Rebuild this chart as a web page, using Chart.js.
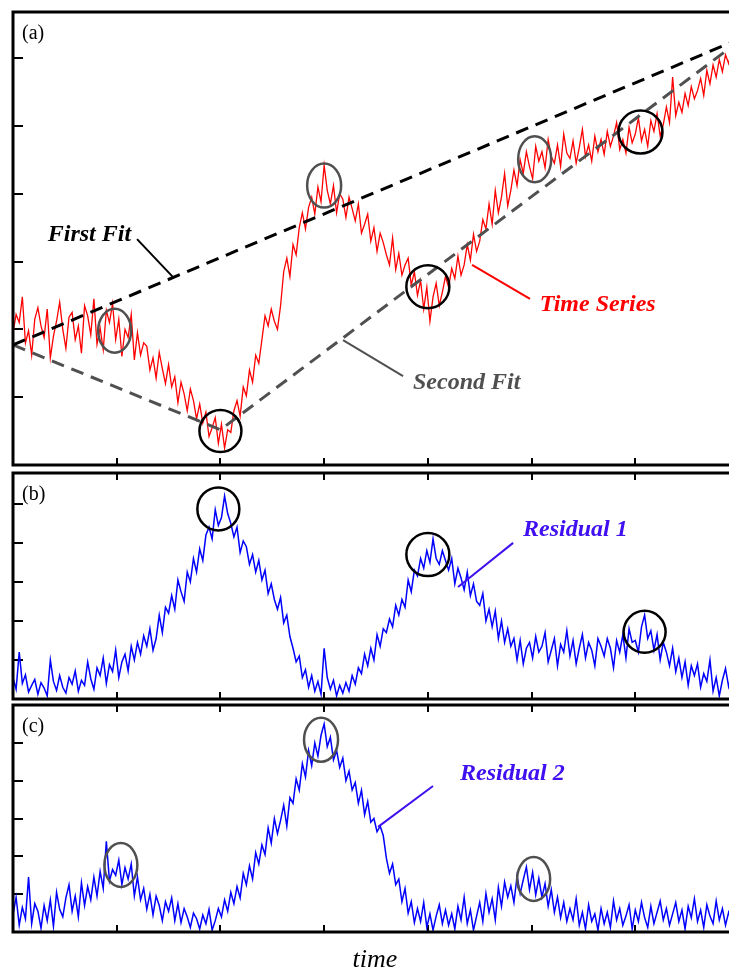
<!DOCTYPE html>
<html>
<head>
<meta charset="utf-8">
<script src="https://cdn.jsdelivr.net/npm/chart.js@4.4.1/dist/chart.umd.min.js"></script>
<style>
  html, body { margin: 0; padding: 0; background: #fff; width: 729px; height: 969px; overflow: hidden; }
  .panel { position: absolute; left: 0; }
</style>
</head>
<body>
<canvas id="chartA" class="panel" width="745" height="470" style="top:0"></canvas>
<canvas id="chartB" class="panel" width="745" height="232" style="top:470px"></canvas>
<canvas id="chartC" class="panel" width="745" height="267" style="top:702px"></canvas>
<script>
// sampling step of the series along the time axis
const timeStep = 0.03;
const timeTicks = [1, 2, 3, 4, 5, 6];
const seriesTicks = [1, 2, 3, 4, 5, 6];
const residual1Ticks = [1, 2, 3, 4, 5];
const residual2Ticks = [1, 2, 3, 4, 5];

const timeSeries = [
  1.95, 2.22, 2.10, 2.48, 1.80, 1.98, 1.62, 2.15, 2.32, 2.05,
  1.88, 2.30, 1.58, 1.90, 2.12, 2.40, 2.00, 1.72, 2.18, 2.25,
  1.85, 2.05, 1.65, 2.35, 2.20, 1.92, 2.45, 1.78, 2.02, 1.70,
  2.28, 2.10, 2.38, 1.85, 2.15, 1.60, 2.00, 1.88, 2.22, 1.55,
  1.95, 1.62, 1.80, 1.75, 1.40, 1.58, 1.28, 1.66, 1.42, 1.20,
  1.48, 1.15, 1.30, 0.92, 1.22, 1.05, 0.80, 1.12, 0.95, 0.68,
  0.90, 0.62, 0.78, 0.42, 0.55, 0.70, 0.32, 0.60, 0.25, 0.52,
  0.48, 0.80, 0.95, 0.72, 1.15, 1.02, 1.40, 1.22, 1.62, 1.50,
  1.85, 2.20, 2.05, 2.30, 2.12, 2.00, 2.35, 2.85, 3.05, 2.78,
  3.25, 3.10, 3.50, 3.72, 3.48, 3.80, 3.95, 3.70, 4.10, 3.88,
  4.42, 4.05, 3.85, 4.12, 3.72, 4.00, 3.92, 3.65, 3.95, 3.78,
  3.60, 3.85, 3.42, 3.55, 3.70, 3.30, 3.50, 3.15, 3.42, 3.28,
  3.10, 2.95, 3.35, 2.88, 3.12, 2.80, 2.95, 3.05, 2.65, 2.85,
  2.50, 2.72, 2.30, 2.62, 2.12, 2.48, 2.68, 2.35, 2.55, 2.78,
  2.62, 2.90, 2.75, 3.08, 2.80, 2.95, 3.25, 3.02, 3.40, 3.15,
  3.30, 3.62, 3.48, 3.85, 3.55, 4.05, 3.72, 3.95, 4.30, 3.82,
  4.05, 4.35, 4.12, 4.50, 4.30, 4.62, 4.40, 4.22, 4.70, 4.48,
  4.62, 4.38, 4.80, 4.55, 4.45, 4.72, 4.40, 4.88, 4.60, 4.52,
  4.78, 4.45, 4.68, 4.95, 4.55, 4.72, 4.48, 4.85, 4.62, 4.80,
  4.58, 4.92, 4.70, 4.85, 5.05, 4.65, 4.80, 4.60, 4.98, 4.75,
  4.88, 5.12, 4.78, 4.95, 4.70, 5.08, 4.92, 5.18, 4.85, 5.02,
  5.28, 5.05, 5.72, 5.15, 5.35, 5.20, 5.48, 5.30, 5.58, 5.40,
  5.52, 5.70, 5.45, 5.82, 5.62, 5.90, 5.72, 5.98, 5.80, 6.05,
  5.92, 6.12
];

const residual1 = [
  0.55, 0.25, 1.20, 0.40, 0.62, 0.18, 0.35, 0.50, 0.12, 0.42,
  0.28, 0.08, 1.00, 0.45, 0.22, 0.60, 0.30, 0.15, 0.55, 0.38,
  0.72, 0.20, 0.48, 0.35, 0.95, 0.52, 0.25, 0.80, 0.60, 1.05,
  0.40, 0.88, 0.70, 1.25, 0.55, 0.95, 1.15, 0.72, 1.35, 1.00,
  1.45, 1.15, 1.62, 1.35, 1.80, 1.25, 1.55, 2.15, 1.70, 2.35,
  2.20, 2.65, 2.30, 3.05, 2.75, 2.50, 3.25, 3.00, 3.60, 3.25,
  3.85, 3.55, 4.20, 4.40, 4.10, 4.85, 4.45, 4.65, 5.20, 4.75,
  4.50, 4.15, 4.40, 3.75, 4.05, 3.90, 3.45, 3.70, 3.25, 3.55,
  3.05, 3.30, 2.70, 2.95, 2.55, 2.30, 2.60, 1.95, 2.15, 1.60,
  1.30, 0.95, 1.10, 0.55, 0.75, 0.30, 0.60, 0.20, 0.45, 0.12,
  1.30, 0.55, 0.25, 0.48, 0.08, 0.35, 0.15, 0.42, 0.20, 0.60,
  0.38, 0.80, 0.65, 1.15, 0.85, 1.30, 1.00, 1.65, 1.35, 1.80,
  1.70, 2.05, 1.85, 2.40, 2.15, 2.55, 2.35, 3.05, 2.75, 3.30,
  3.15, 3.60, 3.35, 3.80, 3.50, 4.10, 3.60, 3.45, 3.80, 3.55,
  3.30, 3.60, 2.95, 3.35, 3.10, 2.80, 3.25, 2.65, 2.95, 2.50,
  2.40, 2.70, 2.00, 2.30, 1.85, 2.25, 1.55, 2.00, 1.45, 1.80,
  1.35, 1.55, 1.00, 1.50, 0.90, 1.30, 1.45, 1.05, 1.60, 1.20,
  1.35, 1.70, 0.95, 1.25, 1.55, 0.85, 1.40, 1.20, 1.75, 1.10,
  1.50, 0.90, 1.30, 1.65, 1.05, 1.45, 1.25, 0.85, 1.55, 1.35,
  1.10, 1.55, 1.30, 0.80, 1.50, 1.20, 1.65, 1.05, 1.80, 1.45,
  1.50, 1.20, 1.85, 2.15, 1.55, 1.75, 1.25, 1.65, 1.00, 1.45,
  1.20, 0.85, 1.30, 0.70, 1.05, 0.55, 0.95, 0.35, 0.85, 0.60,
  0.90, 0.30, 0.65, 0.45, 1.00, 0.20, 0.55, 0.08, 0.48, 0.78,
  0.32, 0.62
];

const residual2 = [
  0.45, 0.92, 0.18, 0.65, 0.35, 1.45, 0.22, 0.75, 0.55, 0.10,
  0.70, 0.30, 0.85, 0.15, 1.05, 0.60, 0.40, 0.90, 1.25, 0.55,
  0.95, 0.40, 1.30, 0.70, 1.20, 0.85, 1.45, 0.95, 1.60, 1.15,
  2.40, 1.35, 1.65, 1.50, 1.90, 1.25, 1.70, 1.40, 1.80, 0.95,
  1.45, 0.85, 1.15, 0.60, 1.00, 0.45, 0.95, 0.70, 0.30, 0.80,
  0.55, 0.90, 0.30, 0.75, 0.25, 0.62, 0.40, 0.12, 0.50, 0.35,
  0.08, 0.45, 0.22, 0.60, 0.05, 0.30, 0.62, 0.40, 0.85, 0.55,
  1.05, 0.75, 1.20, 0.90, 1.55, 1.25, 1.75, 1.40, 2.10, 1.80,
  2.30, 2.05, 2.75, 2.35, 3.00, 2.60, 2.95, 3.35, 2.80, 3.55,
  3.40, 4.05, 3.75, 4.45, 4.10, 4.80, 4.40, 5.00, 4.65, 5.20,
  5.50, 4.90, 5.15, 4.55, 4.80, 4.35, 4.60, 4.00, 4.25, 3.75,
  3.95, 3.40, 3.75, 3.10, 3.45, 2.90, 3.00, 2.65, 2.80, 2.55,
  1.95, 1.55, 1.80, 1.25, 1.40, 0.80, 1.15, 0.50, 0.80, 0.25,
  0.62, 0.28, 0.78, 0.12, 0.48, 0.05, 0.42, 0.72, 0.22, 0.58,
  0.18, 0.48, 0.08, 0.68, 0.32, 0.92, 0.22, 0.58, 0.05, 0.42,
  0.78, 0.28, 1.02, 0.52, 0.88, 0.32, 1.18, 0.68, 1.32, 0.92,
  1.22, 0.78, 1.48, 1.02, 1.38, 1.72, 1.12, 1.58, 0.98, 1.42,
  0.92, 1.28, 0.68, 1.12, 0.52, 0.92, 0.38, 0.78, 0.28, 0.62,
  0.32, 0.88, 0.18, 0.52, 0.08, 0.72, 0.28, 0.48, 0.05, 0.62,
  0.22, 0.52, 0.12, 0.82, 0.32, 0.62, 0.18, 0.42, 0.72, 0.08,
  0.58, 0.28, 0.78, 0.38, 0.12, 0.68, 0.22, 0.52, 0.82, 0.32,
  0.62, 0.18, 0.48, 0.78, 0.28, 0.58, 0.08, 0.68, 0.38, 0.88,
  0.28, 0.58, 0.12, 0.72, 0.42, 0.22, 0.82, 0.32, 0.62, 0.18,
  0.52, 0.28
];

// straight-line fits (time, value)
const firstFitT = [0, 7];
const firstFitV = [1.77, 6.28];
const secondFitT = [0, 2.0, 7];
const secondFitV = [1.77, 0.52, 6.25];

const SERIF = '"Liberation Serif", "Times New Roman", serif';
const GRAY = '#505050';
const RED = '#ff0000';
const BLUE = '#0000ff';
const VIOLET = '#4010f0';

function toPoints(values) {
  return values.map((v, i) => ({ x: i * timeStep, y: v }));
}

function pairPoints(ts, vs) {
  return ts.map((t, i) => ({ x: t, y: vs[i] }));
}

function tickGrid(len) {
  return { drawOnChartArea: false, drawTicks: true, tickLength: -len, color: '#000', lineWidth: 2 };
}

function xAxis(position) {
  return {
    type: 'linear',
    position,
    min: 0,
    max: 7,
    ticks: { display: false },
    grid: tickGrid(7),
    border: { display: false },
    afterBuildTicks: (s) => { s.ticks = timeTicks.map((v) => ({ value: v })); },
    afterFit: (s) => { s.height = 0; },
  };
}

function yAxis(max, tickValues) {
  return {
    type: 'linear',
    position: 'left',
    min: 0,
    max,
    ticks: { display: false },
    grid: tickGrid(10),
    border: { display: false },
    afterBuildTicks: (s) => { s.ticks = tickValues.map((v) => ({ value: v })); },
    afterFit: (s) => { s.width = 0; },
  };
}

// frame, circles, leader lines and labels for one panel
function decor(cfg) {
  return {
    id: 'decor',
    afterDatasetsDraw(chart) {
      const { ctx, chartArea: a } = chart;
      const x = chart.scales.x;
      const y = chart.scales.y;
      ctx.save();
      ctx.lineWidth = 3;
      ctx.strokeStyle = '#000';
      ctx.strokeRect(a.left, a.top, a.right - a.left, a.bottom - a.top);

      cfg.rings.forEach((r) => {
        ctx.beginPath();
        ctx.ellipse(x.getPixelForValue(r.t), y.getPixelForValue(r.v), r.rx, r.ry, 0, 0, Math.PI * 2);
        ctx.lineWidth = 2.5;
        ctx.strokeStyle = r.color;
        ctx.stroke();
      });

      cfg.notes.forEach((n) => {
        ctx.beginPath();
        ctx.moveTo(x.getPixelForValue(n.from[0]), y.getPixelForValue(n.from[1]));
        ctx.lineTo(x.getPixelForValue(n.to[0]), y.getPixelForValue(n.to[1]));
        ctx.lineWidth = 2;
        ctx.strokeStyle = n.color;
        ctx.stroke();
        ctx.font = 'italic bold 24px ' + SERIF;
        ctx.fillStyle = n.color;
        ctx.textAlign = 'left';
        ctx.textBaseline = 'alphabetic';
        ctx.fillText(n.text, x.getPixelForValue(n.at[0]), y.getPixelForValue(n.at[1]));
      });

      ctx.font = '20px ' + SERIF;
      ctx.fillStyle = '#000';
      ctx.textAlign = 'left';
      ctx.fillText(cfg.letter, a.left + 9, a.top + 27);

      if (cfg.axisTitle) {
        ctx.font = 'italic 26px ' + SERIF;
        ctx.textAlign = 'center';
        ctx.fillText(cfg.axisTitle, (a.left + a.right) / 2 - 1, a.bottom + 35);
      }
      ctx.restore();
    },
  };
}

function makePanel(id, datasets, yMax, yTicks, pad, withTop, cfg) {
  const scales = { x: xAxis('bottom'), y: yAxis(yMax, yTicks) };
  if (withTop) scales.xTop = xAxis('top');
  return new Chart(document.getElementById(id), {
    type: 'line',
    data: { datasets },
    options: {
      responsive: false,
      animation: false,
      events: [],
      layout: { padding: pad },
      elements: { point: { radius: 0 }, line: { tension: 0 } },
      plugins: { legend: { display: false }, tooltip: { enabled: false } },
      scales,
    },
    plugins: [decor(cfg)],
  });
}

const charts = {
  a: makePanel('chartA', [
    { data: pairPoints(firstFitT, firstFitV), borderColor: '#000', borderWidth: 3, borderDash: [13, 8] },
    { data: pairPoints(secondFitT, secondFitV), borderColor: GRAY, borderWidth: 3, borderDash: [13, 8] },
    { data: toPoints(timeSeries), borderColor: RED, borderWidth: 1.3 },
  ], 6.68, seriesTicks, { left: 13, right: 6, top: 12, bottom: 5 }, false, {
    letter: '(a)',
    rings: [
      { t: 0.98, v: 1.98, rx: 16.5, ry: 22, color: GRAY },
      { t: 2.0, v: 0.5, rx: 21, ry: 21, color: '#000' },
      { t: 3.0, v: 4.12, rx: 17, ry: 22, color: GRAY },
      { t: 4.0, v: 2.63, rx: 21.5, ry: 21.5, color: '#000' },
      { t: 5.03, v: 4.51, rx: 16.5, ry: 23, color: GRAY },
      { t: 6.05, v: 4.91, rx: 22, ry: 21.5, color: '#000' },
    ],
    notes: [
      { text: 'First Fit', color: '#000', at: [0.335, 3.30], from: [1.196, 3.33], to: [1.543, 2.77] },
      { text: 'Time Series', color: RED, at: [5.08, 2.27], from: [4.426, 2.95], to: [4.985, 2.45] },
      { text: 'Second Fit', color: GRAY, at: [3.857, 1.12], from: [3.182, 1.84], to: [3.761, 1.31] },
    ],
  }),
  b: makePanel('chartB', [
    { data: toPoints(residual1), borderColor: BLUE, borderWidth: 1.5 },
  ], 5.79, residual1Ticks, { left: 13, right: 6, top: 3, bottom: 3 }, true, {
    letter: '(b)',
    rings: [
      { t: 1.98, v: 4.87, rx: 21, ry: 21.5, color: '#000' },
      { t: 4.0, v: 3.7, rx: 21.5, ry: 21.5, color: '#000' },
      { t: 6.09, v: 1.72, rx: 21, ry: 21, color: '#000' },
    ],
    notes: [
      { text: 'Residual 1', color: VIOLET, at: [4.918, 4.17], from: [4.291, 2.87], to: [4.822, 4.0] },
    ],
  }),
  c: makePanel('chartC', [
    { data: toPoints(residual2), borderColor: BLUE, borderWidth: 1.5 },
  ], 6.0, residual2Ticks, { left: 13, right: 6, top: 3, bottom: 37 }, true, {
    letter: '(c)',
    axisTitle: 'time',
    rings: [
      { t: 1.04, v: 1.77, rx: 16.5, ry: 22, color: GRAY },
      { t: 2.97, v: 5.08, rx: 17, ry: 22, color: GRAY },
      { t: 5.02, v: 1.40, rx: 16.5, ry: 22, color: GRAY },
    ],
    notes: [
      { text: 'Residual 2', color: VIOLET, at: [4.31, 4.01], from: [3.52, 2.78], to: [4.05, 3.86] },
    ],
  }),
};
</script>
</body>
</html>
